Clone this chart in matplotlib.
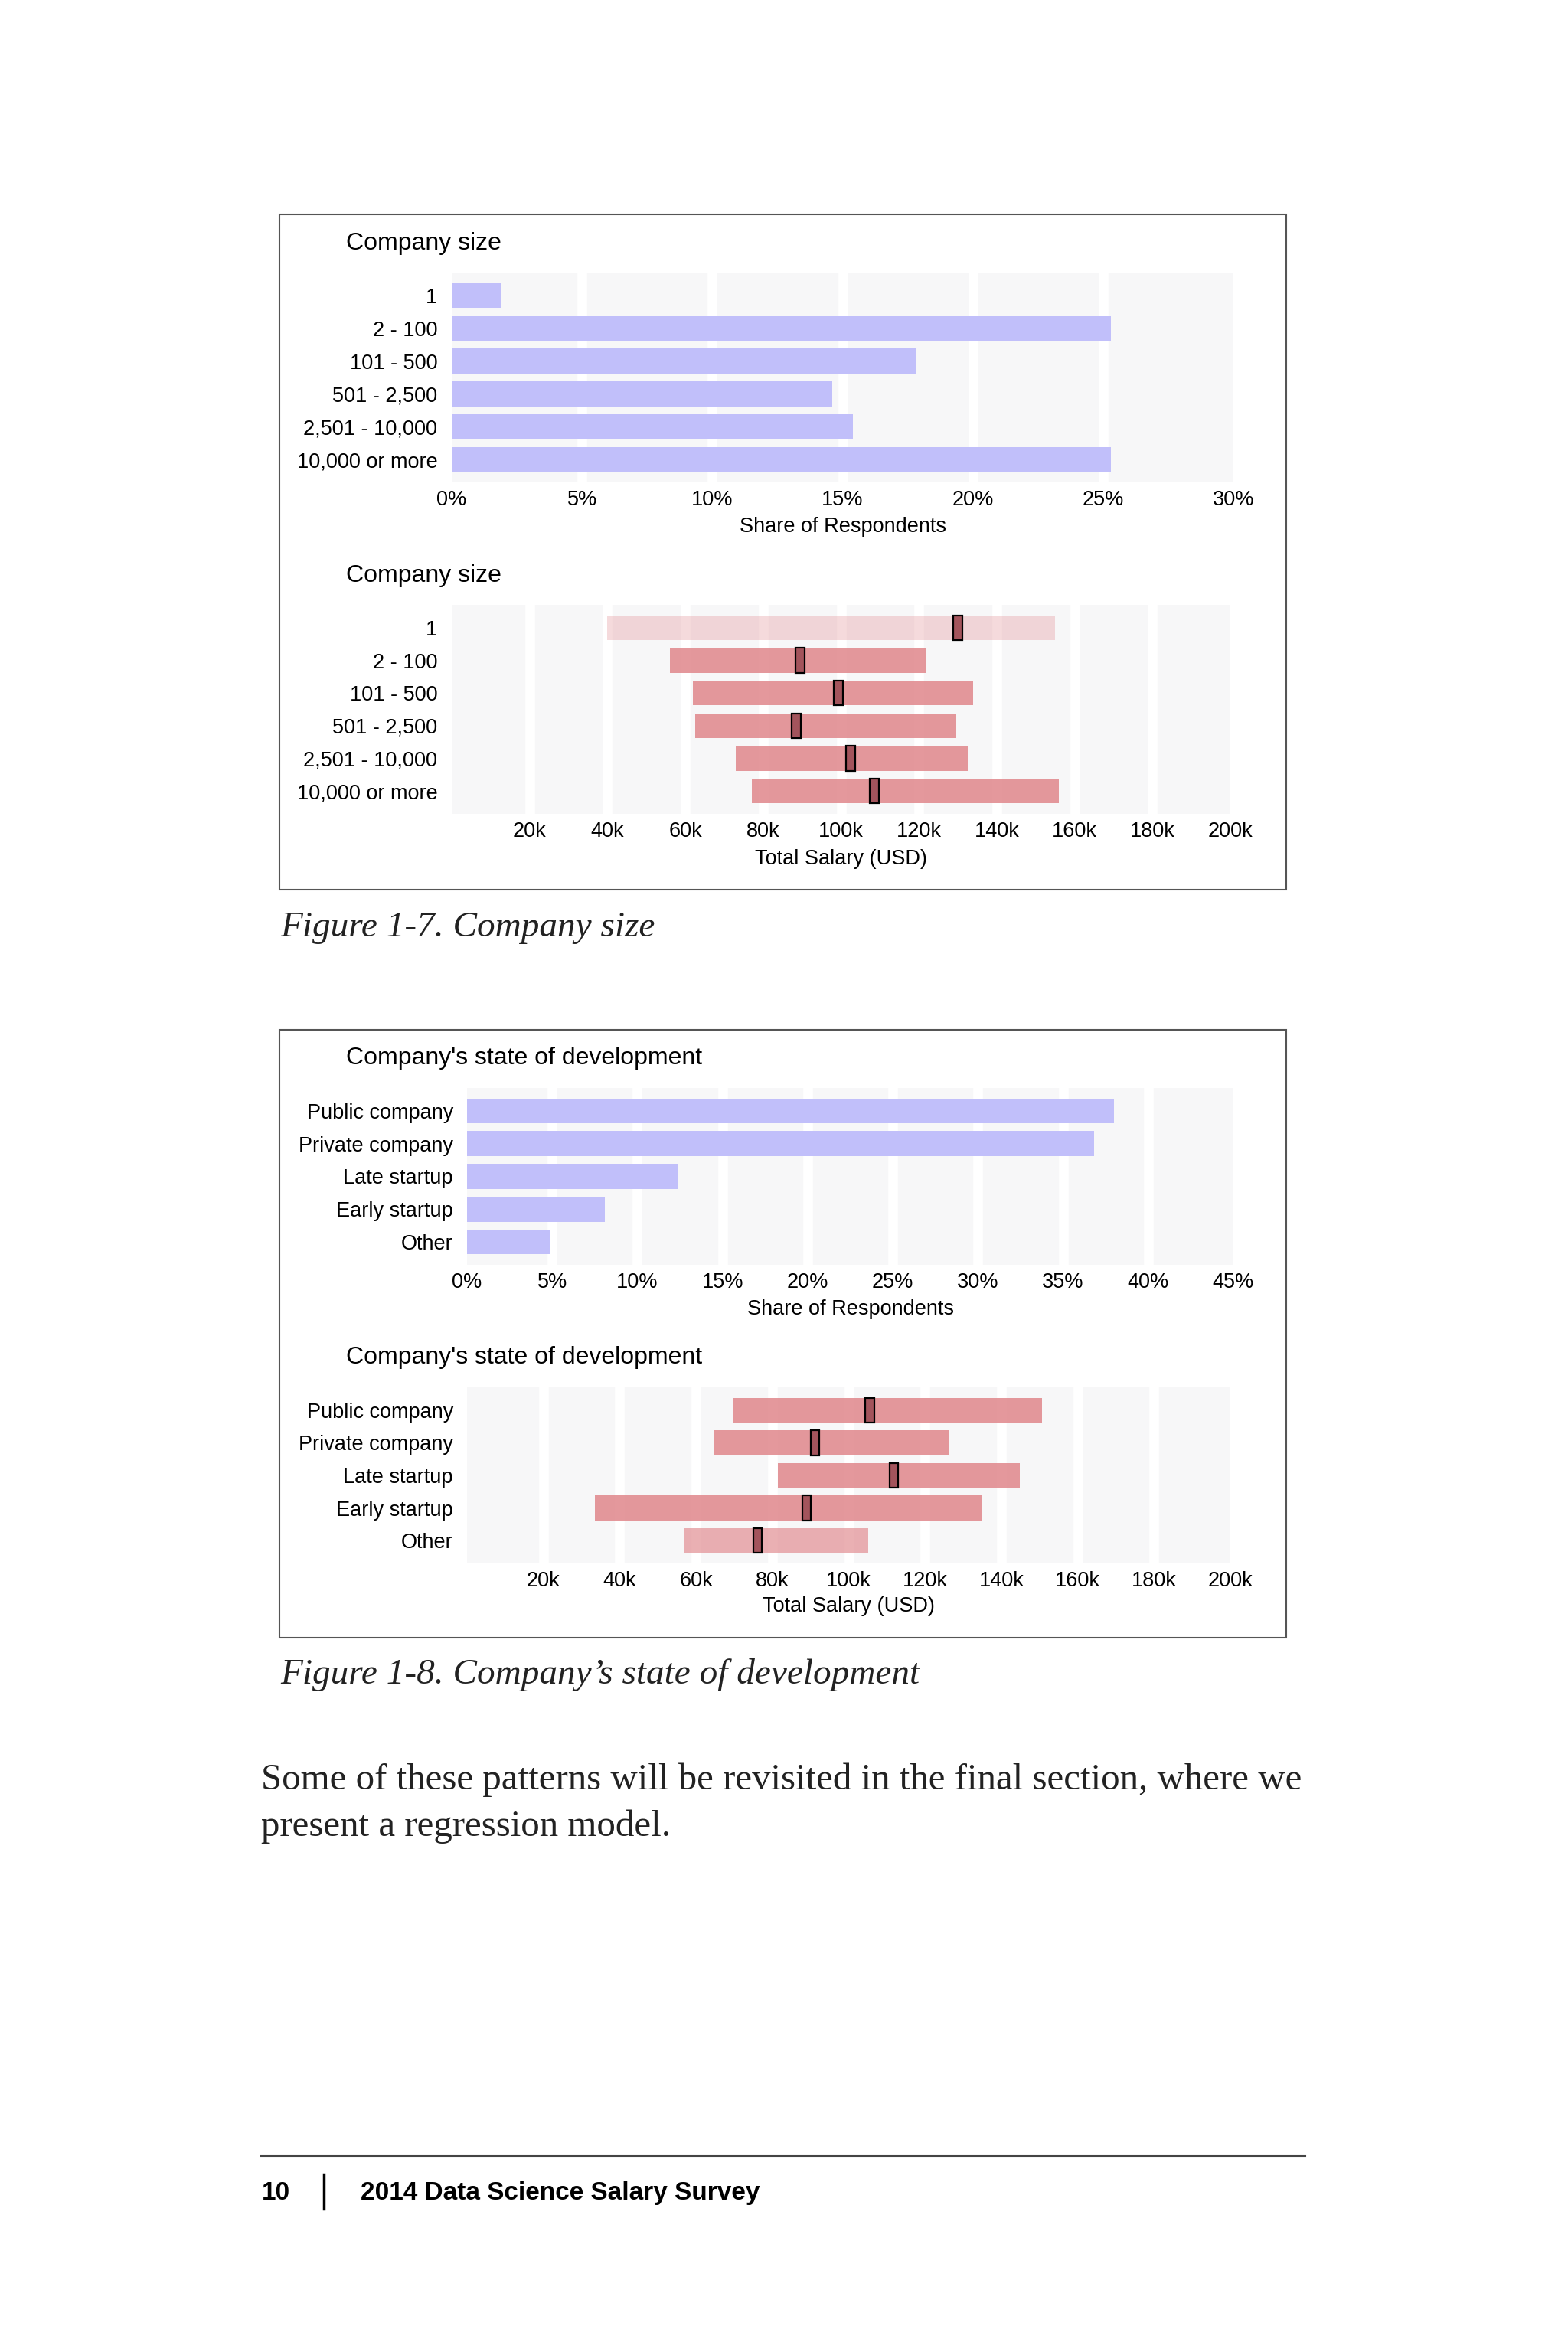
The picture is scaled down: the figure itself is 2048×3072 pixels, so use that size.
import numpy as np
import matplotlib
matplotlib.use('Agg')
import matplotlib.pyplot as plt
from matplotlib.patches import Rectangle
from matplotlib.lines import Line2D
from matplotlib.ticker import FuncFormatter

# Data
size_labels = ['1', '2 - 100', '101 - 500', '501 - 2,500', '2,501 - 10,000', '10,000 or more']
size_share = [1.9, 25.3, 17.8, 14.6, 15.4, 25.3]
size_low = [40000, 56000, 62000, 62500, 73000, 77000]
size_median = [130000, 89500, 99300, 88500, 102500, 108500]
size_high = [155000, 122000, 134000, 129500, 132500, 156000]

dev_labels = ['Public company', 'Private company', 'Late startup', 'Early startup', 'Other']
dev_share = [38.0, 36.8, 12.4, 8.1, 4.9]
dev_low = [69700, 64600, 81400, 33500, 56800]
dev_median = [105500, 91200, 111800, 89000, 76100]
dev_high = [150700, 126100, 144800, 135100, 105200]

share_ticks_size = [0, 5, 10, 15, 20, 25, 30]
share_ticks_dev = [0, 5, 10, 15, 20, 25, 30, 35, 40, 45]
salary_ticks = [20000, 40000, 60000, 80000, 100000, 120000, 140000, 160000, 180000, 200000]

# Styles (row transparency of the salary bars)
size_alpha = [0.3, 0.85, 0.85, 0.85, 0.85, 0.85]
dev_alpha = [0.85, 0.85, 0.85, 0.85, 0.65]

W, H = 2048, 3072
BLUE = '#c1bffa'
RED = '#e0868b'
MEDIAN = '#a3545c'
PANEL_BG = '#f7f7f8'
TICK_FS = 19.5
TITLE_FS = 23

plt.rcParams['font.family'] = ['Liberation Sans', 'DejaVu Sans']


def px_rect(left, top, right, bottom):
    return [left / W, 1 - bottom / H, (right - left) / W, (bottom - top) / H]


def fx(x):
    return x / W


def fy(y):
    return 1 - y / H


def base_panel(fig, rect, labels, xmin, xmax, ticks, title, title_y, xlabel, xlabel_y, ypad):
    ax = fig.add_axes(px_rect(*rect))
    n = len(labels)
    ax.set_facecolor(PANEL_BG)
    ax.set_xlim(xmin, xmax)
    ax.set_ylim(n - 1 + 0.7, -0.7)
    ax.set_yticks(np.arange(n))
    ax.set_yticklabels(labels)
    ax.set_xticks(ticks)
    for t in ticks:
        if xmin < t < xmax:
            ax.axvline(t, color='white', lw=9, zorder=0.5)
    for s in ax.spines.values():
        s.set_visible(False)
    ax.tick_params(axis='both', length=0, labelsize=TICK_FS, colors='black')
    ax.tick_params(axis='x', pad=7)
    ax.tick_params(axis='y', pad=ypad)

    ax.set_xlabel(xlabel, fontsize=TICK_FS, va='center')
    ax.xaxis.set_label_coords(0.5, (rect[3] - xlabel_y) / (rect[3] - rect[1]))

    fig.text(fx(452), fy(title_y), title, fontsize=TITLE_FS, va='center', ha='left')
    return ax


def share_panel(fig, rect, labels, values, ticks, title, title_y, xlabel_y, ypad):
    ax = base_panel(fig, rect, labels, 0, ticks[-1], ticks, title, title_y,
                    'Share of Respondents', xlabel_y, ypad)
    ax.barh(np.arange(len(labels)), values, height=0.76, color=BLUE, zorder=2)
    ax.xaxis.set_major_formatter(FuncFormatter(lambda v, p: f'{v:.0f}%'))
    return ax


def salary_panel(fig, rect, labels, low, median, high, alphas, title, title_y, xlabel_y, ypad):
    ax = base_panel(fig, rect, labels, 0, 200000, salary_ticks, title, title_y,
                    'Total Salary (USD)', xlabel_y, ypad)
    y = np.arange(len(labels))
    widths = np.array(high) - np.array(low)
    for yi, lo, w, a in zip(y, low, widths, alphas):
        ax.barh(yi, w, left=lo, height=0.76, color=RED, alpha=a, lw=0, zorder=2)
    mw = 2300
    ax.barh(y, mw, left=np.array(median) - mw / 2, height=0.76,
            color=MEDIAN, edgecolor='black', lw=1.6, zorder=3)
    ax.xaxis.set_major_formatter(FuncFormatter(lambda v, p: f'{v / 1000:.0f}k'))
    return ax


fig = plt.figure(figsize=(W / 100, H / 100), dpi=100)
fig.patch.set_facecolor('white')

# Frames
for top, bottom in [(280, 1162), (1345, 2139)]:
    fig.add_artist(Rectangle((fx(365), fy(bottom)), (1680 - 365) / W, (bottom - top) / H,
                             transform=fig.transFigure, fill=False, ec='#555555', lw=1.5))

share_panel(fig, (590, 356, 1611, 630), size_labels, size_share, share_ticks_size,
            'Company size', 318, 688, 13.5)
salary_panel(fig, (590, 790, 1607, 1063), size_labels, size_low, size_median, size_high,
             size_alpha, 'Company size', 752, 1122, 13.5)
share_panel(fig, (610, 1421, 1611, 1652), dev_labels, dev_share, share_ticks_dev,
            "Company's state of development", 1382, 1710, 13)
salary_panel(fig, (610, 1812, 1607, 2042), dev_labels, dev_low, dev_median, dev_high,
             dev_alpha, "Company's state of development", 1773, 2098, 13)

# Captions
serif = ['Liberation Serif', 'DejaVu Serif']
fig.text(fx(366), fy(1223), 'Figure 1-7. Company size', family=serif, style='italic',
         fontsize=34, va='baseline', color='#222222')
fig.text(fx(366), fy(2199), 'Figure 1-8. Company\u2019s state of development', family=serif,
         style='italic', fontsize=34, va='baseline', color='#222222')

# Body text
fig.text(fx(341), fy(2337), 'Some of these patterns will be revisited in the final section, where we',
         family=serif, fontsize=35.2, va='baseline', color='#222222')
fig.text(fx(341), fy(2398), 'present a regression model.',
         family=serif, fontsize=35.2, va='baseline', color='#222222')

# Footer
fig.add_artist(Line2D([fx(341), fx(1705)], [fy(2816), fy(2816)], transform=fig.transFigure,
                      color='#444444', lw=1.5))
fig.add_artist(Line2D([fx(423), fx(423)], [fy(2840), fy(2885)], transform=fig.transFigure,
                      color='black', lw=2.5))
fig.text(fx(342), fy(2873), '10', family=['Liberation Sans', 'DejaVu Sans'], weight='bold',
         fontsize=24, va='baseline')
fig.text(fx(471), fy(2873), '2014 Data Science Salary Survey', family=['Liberation Sans', 'DejaVu Sans'],
         weight='bold', fontsize=24, va='baseline')

fig.savefig('out.png', dpi=100, facecolor='white')
